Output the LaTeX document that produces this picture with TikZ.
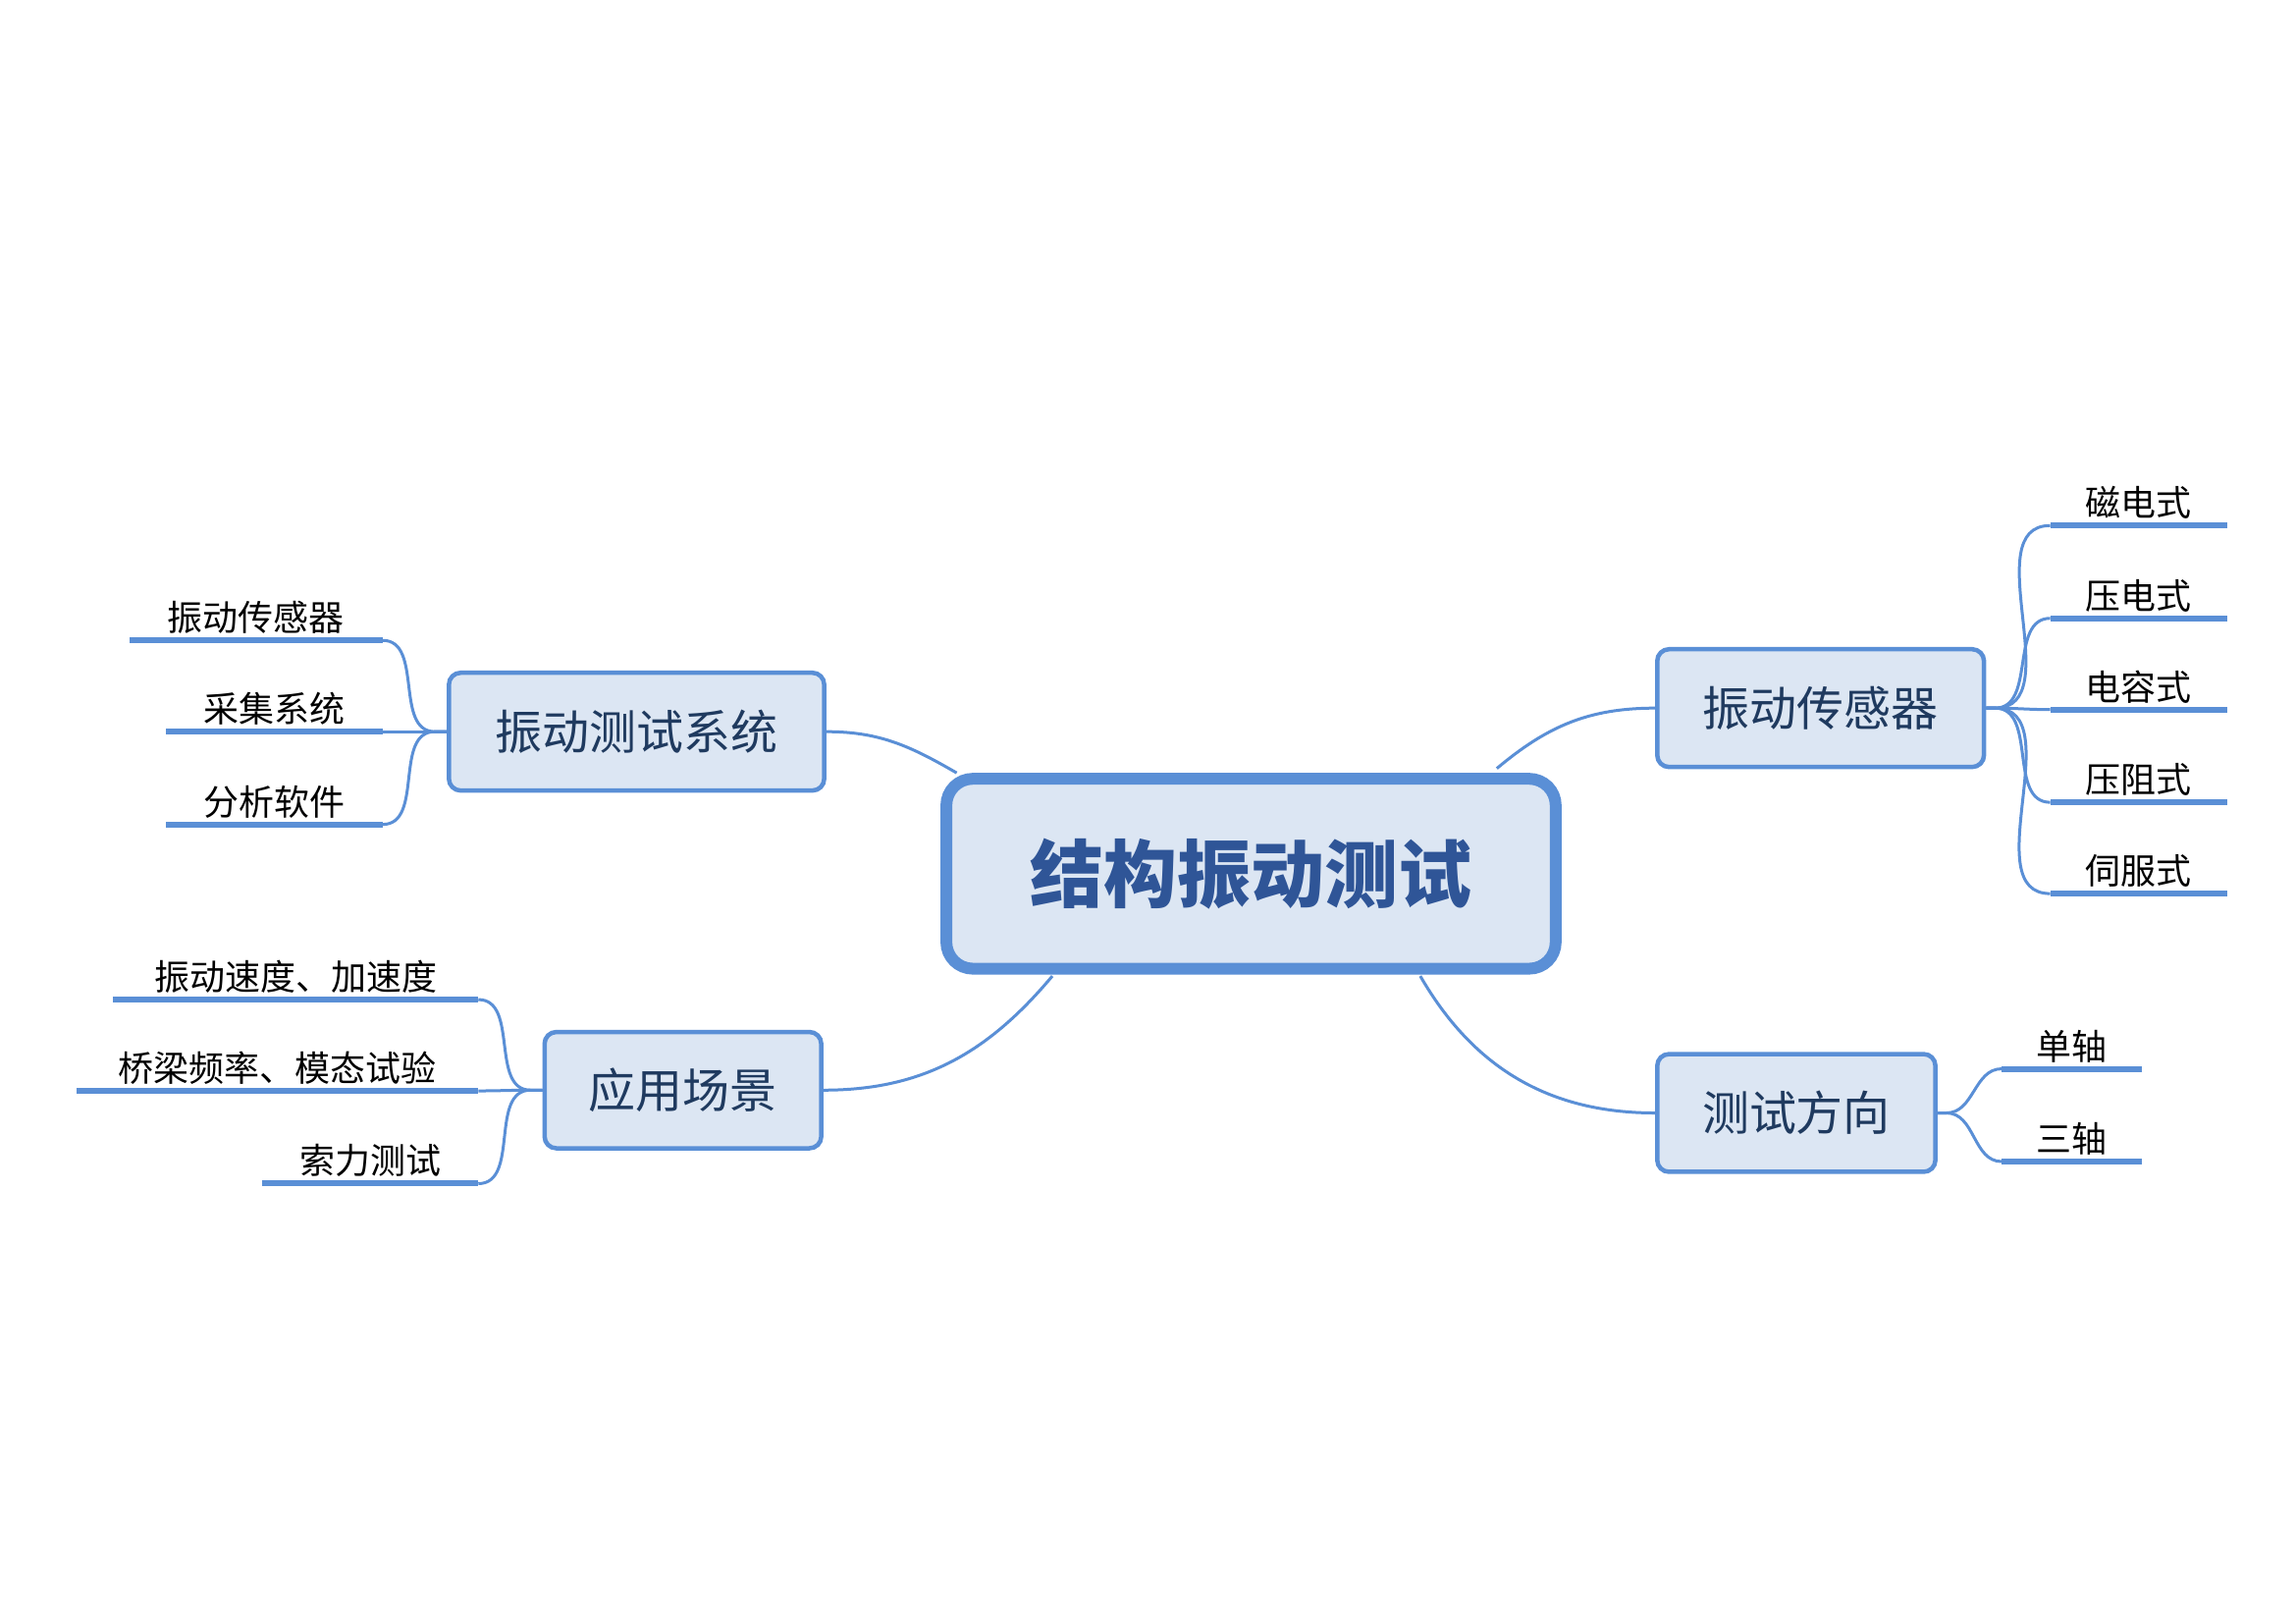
\documentclass[tikz,border=0pt]{standalone}
\usepackage{fontspec}
\usetikzlibrary{calc}
\setmainfont{Noto Sans CJK SC}
\begin{document}
\begin{tikzpicture}[x=0.5pt,y=-0.5pt,
  conn/.style={draw=lineblue,line width=1pt},
  uline/.style={draw=lineblue,line width=2pt},
  branchbox/.style={draw=lineblue,fill=boxfill,line width=1.5pt,rounded corners=4pt,font=\fontsize{16}{18}\selectfont,text=textblue,inner sep=0pt},
  leaftext/.style={anchor=south,font=\fontsize{12}{14}\selectfont,inner sep=2pt}]
\definecolor{lineblue}{HTML}{5A8FD6}
\definecolor{boxfill}{HTML}{DCE6F3}
\definecolor{textblue}{HTML}{1F3A5F}
\definecolor{titleblue}{HTML}{2F5597}
\useasboundingbox (0,0) rectangle (1560,1103);
\fill[white] (0,0) rectangle (1560,1103);
% center
\node[draw=lineblue,fill=boxfill,line width=4pt,rounded corners=9pt,minimum width=414pt/2,minimum height=129pt/2,text=titleblue,font=\fontsize{25}{28}\selectfont\bfseries] (c) at (850,593.5) {结构振动测试};
% branches
\node[branchbox,minimum width=255pt/2,minimum height=80pt/2] (s) at (432.5,497) {振动测试系统};
\node[branchbox,minimum width=222pt/2,minimum height=80pt/2] (r) at (1237,481) {振动传感器};
\node[branchbox,minimum width=188pt/2,minimum height=79pt/2] (a) at (464,740.5) {应用场景};
\node[branchbox,minimum width=189pt/2,minimum height=80pt/2] (d) at (1220.5,756) {测试方向};
\coordinate (c1) at (650,525);
\coordinate (c2) at (1017,522);
\coordinate (c3) at (715,663);
\coordinate (c4) at (965,663);
\draw[conn] (c1) to[out=150,in=0] (s.east);
\draw[conn] (c2) to[out=40,in=180] (r.west);
\draw[conn] (c3) to[out=-130,in=0] (a.east);
\draw[conn] (c4) to[out=-60,in=180] (d.west);
% leaves: system
\foreach \n/\xa/\y/\t in {s1/88/435/振动传感器,s2/113/497/采集系统,s3/113/560/分析软件}{
  \coordinate (\n a) at (\xa,\y); \coordinate (\n b) at (260,\y);
  \draw[uline] (\n a) -- (\n b);
  \node[leaftext] (\n t) at ($(\n a)!0.5!(\n b)$) {\t};
  \draw[conn] (s.west) -- ++(-8,0) to[out=180,in=0] (\n b);
}
% sensor types
\foreach \n/\y/\t in {r1/357/磁电式,r2/420/压电式,r3/482/电容式,r4/545/压阻式,r5/607/伺服式}{
  \coordinate (\n a) at (1393,\y); \coordinate (\n b) at (1513,\y);
  \draw[uline] (\n a) -- (\n b);
  \node[leaftext] (\n t) at ($(\n a)!0.5!(\n b)$) {\t};
  \draw[conn] (r.east) -- ++(6,0) to[out=0,in=180] (\n a);
}
% applications
\foreach \n/\xa/\y/\t in {a1/77/679/振动速度、加速度,a2/52/741/桥梁频率、模态试验,a3/178/804/索力测试}{
  \coordinate (\n a) at (\xa,\y); \coordinate (\n b) at (325,\y);
  \draw[uline] (\n a) -- (\n b);
  \node[leaftext] (\n t) at ($(\n a)!0.5!(\n b)$) {\t};
  \draw[conn] (a.west) -- ++(-8,0) to[out=180,in=0] (\n b);
}
% directions
\foreach \n/\y/\t in {d1/726/单轴,d2/789/三轴}{
  \coordinate (\n a) at (1360,\y); \coordinate (\n b) at (1455,\y);
  \draw[uline] (\n a) -- (\n b);
  \node[leaftext] (\n t) at ($(\n a)!0.5!(\n b)$) {\t};
  \draw[conn] (d.east) -- ++(6,0) to[out=0,in=180] (\n a);
}
\end{tikzpicture}
\end{document}
